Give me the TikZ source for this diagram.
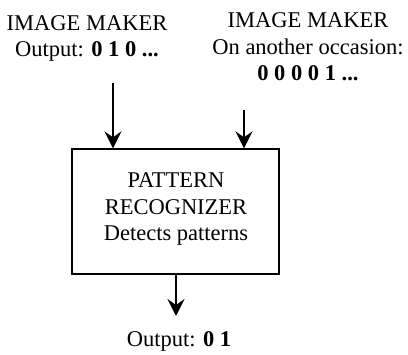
\documentclass[tikz,border=0pt]{standalone}
\usepackage{fontspec}
\setmainfont{Liberation Serif}
\usetikzlibrary{arrows.meta}
\begin{document}
\begin{tikzpicture}[x=1pt,y=-1pt,
  lbl/.style={align=center,font=\fontsize{22.5}{26.5}\selectfont,inner sep=0pt,anchor=base},
  arr/.style={line width=1.6pt,-{Stealth[length=17pt,width=17pt,inset=6pt]}},
  boxst/.style={draw,line width=1.3pt,minimum width=207pt,minimum height=125pt,inner sep=0pt}]
\useasboundingbox (0,0) rectangle (408,355);
\node[boxst] (box) at (175.5,211.5) {};
\node[lbl] (boxt) at (176,241) {PATTERN\\RECOGNIZER\\Detects patterns};
\node[lbl] (im1) at (87,57) {IMAGE MAKER\\Output: \textbf{0 1 0 ...}};
\node[lbl] (im2) at (308,81) {IMAGE MAKER\\On another occasion:\\\textbf{0 0 0 0 1 ...}};
\node[lbl] (out) at (179,347) {Output: \textbf{0 1}};
\coordinate (a1) at (113,83);
\coordinate (a2) at (244,110);
\coordinate (a3) at (176,274);
\draw[arr] (a1) -- (a1 |- box.north);
\draw[arr] (a2) -- (a2 |- box.north);
\draw[arr] (a3) -- ++(0,42);
\end{tikzpicture}
\end{document}
